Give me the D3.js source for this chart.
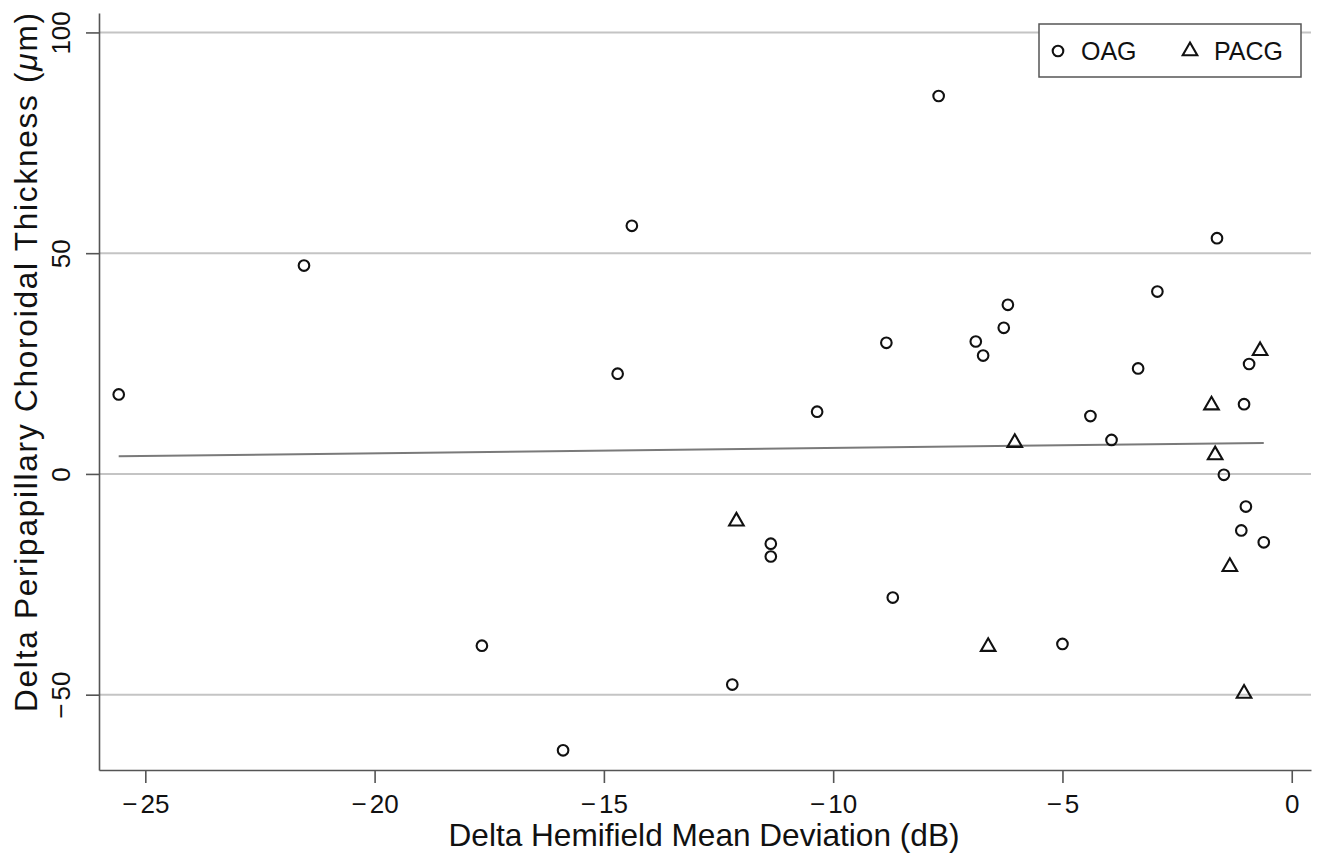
<!DOCTYPE html>
<html>
<head>
<meta charset="utf-8">
<script src="https://cdn.jsdelivr.net/npm/d3@7"></script>
<style>
  body { margin: 0; background: #fff; }
  text { font-family: "Liberation Sans", Arial, Helvetica, sans-serif; fill: #111; }
</style>
</head>
<body>
<script>
// OAG eyes: delta hemifield MD (dB), delta choroidal thickness (um)
var oagX = [-25.58, -21.54, -17.66, -15.89, -14.70, -14.39, -12.20, -11.36, -11.36, -10.35,
            -8.84, -8.70, -7.70, -6.89, -6.73, -6.28, -6.19, -5.00, -4.39, -3.93,
            -3.35, -2.93, -1.63, -1.48, -1.04, -1.00, -1.10, -0.93, -0.61];
var oagY = [18.0, 47.2, -38.9, -62.6, 22.7, 56.2, -47.7, -15.8, -18.7, 14.1,
            29.7, -28.0, 85.6, 30.0, 26.8, 33.1, 38.3, -38.5, 13.1, 7.7,
            23.9, 41.3, 53.4, -0.2, 15.8, -7.4, -12.8, 24.9, -15.5];

// PACG eyes
var pacgX = [-12.11, -6.62, -6.04, -1.75, -1.67, -1.35, -1.04, -0.69];
var pacgY = [-10.5, -38.9, 7.3, 15.8, 4.5, -20.8, -49.5, 28.1];

// linear fit (all eyes)
var fitSlope = 0.12;
var fitIntercept = 7.08;

var xTicks = [-25, -20, -15, -10, -5, 0];
var yTicks = [-50, 0, 50, 100];
var legendLabels = ["OAG", "PACG"];

var W = 1320, H = 856;
var svg = d3.select("body").append("svg")
    .attr("width", W).attr("height", H);

var x = d3.scaleLinear().domain([-26.01, 0.42]).range([99, 1311]);
var y = d3.scaleLinear().domain([-67.06, 104.4]).range([770, 13]);

// gridlines
svg.append("g").selectAll("line")
    .data(yTicks).enter().append("line")
    .attr("x1", x.range()[0]).attr("x2", x.range()[1])
    .attr("y1", function(d) { return y(d); })
    .attr("y2", function(d) { return y(d); })
    .attr("stroke", "#c4c4c4")
    .attr("stroke-width", 2);

// stata-style minus: a bit wider gap before the digits
function minusLabel(sel) {
    sel.each(function(d) {
        var t = d3.select(this).text("");
        if (d < 0) {
            t.append("tspan").text("\u2212");
            t.append("tspan").attr("dx", 3).text(-d);
        } else {
            t.append("tspan").text(d);
        }
    });
}

// axes
var xAxis = svg.append("g")
    .attr("transform", "translate(0," + y.range()[0] + ")")
    .call(d3.axisBottom(x).tickValues(xTicks).tickSize(13).tickSizeOuter(0));
xAxis.selectAll("text").attr("font-size", 26).attr("dy", 0).attr("y", 43).call(minusLabel);

var yAxis = svg.append("g")
    .attr("transform", "translate(" + x.range()[0] + ",0)")
    .call(d3.axisLeft(y).tickValues(yTicks).tickSize(13).tickSizeOuter(0));
yAxis.selectAll("text")
    .attr("font-size", 26)
    .attr("text-anchor", "middle")
    .attr("x", 0).attr("dy", 0)
    .attr("transform", "translate(-29,0) rotate(-90)")
    .call(minusLabel);

svg.selectAll(".domain, .tick line")
    .attr("stroke", "#555").attr("stroke-width", 1.6);
svg.selectAll(".tick text").style("fill", "#111");

// fit line
var fitX = [d3.min(oagX.concat(pacgX)), d3.max(oagX.concat(pacgX))];
svg.append("line")
    .attr("x1", x(fitX[0])).attr("y1", y(fitIntercept + fitSlope * fitX[0]))
    .attr("x2", x(fitX[1])).attr("y2", y(fitIntercept + fitSlope * fitX[1]))
    .attr("stroke", "#7a7a7a").attr("stroke-width", 2);

// markers
var oag = oagX.map(function(d, i) { return {x: d, y: oagY[i]}; });
var pacg = pacgX.map(function(d, i) { return {x: d, y: pacgY[i]}; });

var tri = d3.symbol().type(d3.symbolTriangle).size(92);

svg.append("g").selectAll("circle")
    .data(oag).enter().append("circle")
    .attr("cx", function(d) { return x(d.x); })
    .attr("cy", function(d) { return y(d.y); })
    .attr("r", 5.3)
    .attr("fill", "none").attr("stroke", "#111").attr("stroke-width", 2.1);

svg.append("g").selectAll("path")
    .data(pacg).enter().append("path")
    .attr("d", tri)
    .attr("transform", function(d) { return "translate(" + x(d.x) + "," + (y(d.y) + 1) + ")"; })
    .attr("fill", "none").attr("stroke", "#111").attr("stroke-width", 2.1);

// legend
var lg = svg.append("g");
lg.append("rect")
    .attr("x", 1039).attr("y", 24).attr("width", 262).attr("height", 53)
    .attr("fill", "#fff").attr("stroke", "#555").attr("stroke-width", 1.5);
lg.append("circle").attr("cx", 1058).attr("cy", 51).attr("r", 5.3)
    .attr("fill", "none").attr("stroke", "#111").attr("stroke-width", 2.1);
lg.append("path").attr("d", tri).attr("transform", "translate(1190,51)")
    .attr("fill", "none").attr("stroke", "#111").attr("stroke-width", 2.1);
lg.append("text").attr("x", 1081).attr("y", 60).attr("font-size", 25).text(legendLabels[0]);
lg.append("text").attr("x", 1214).attr("y", 60).attr("font-size", 25).text(legendLabels[1]);

// axis titles
svg.append("text")
    .attr("x", 704).attr("y", 846)
    .attr("text-anchor", "middle").attr("font-size", 31.6)
    .text("Delta Hemifield Mean Deviation (dB)");

var yt = svg.append("text")
    .attr("text-anchor", "middle").attr("font-size", 31.6)
    .attr("textLength", 699).attr("lengthAdjust", "spacing")
    .attr("transform", "translate(36.5,362.5) rotate(-90)");
yt.append("tspan").text("Delta Peripapillary Choroidal Thickness (");
yt.append("tspan").attr("font-style", "italic").text("\u03bc");
yt.append("tspan").text("m)");
</script>
</body>
</html>
